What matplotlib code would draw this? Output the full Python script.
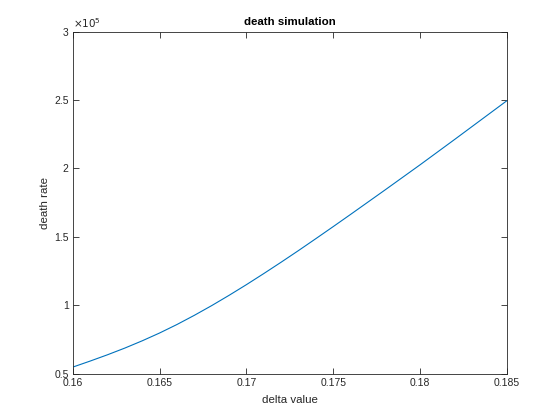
import matplotlib
matplotlib.use("Agg")
import matplotlib.pyplot as plt
from matplotlib.ticker import FuncFormatter, MultipleLocator

plt.rcParams['font.family'] = ['Liberation Sans', 'DejaVu Sans']

delta = [0.160, 0.161, 0.162, 0.163, 0.164, 0.165, 0.166, 0.167, 0.168, 0.169,
         0.170, 0.171, 0.172, 0.173, 0.174, 0.175, 0.176, 0.177, 0.178, 0.179,
         0.180, 0.181, 0.182, 0.183, 0.184, 0.185]
death = [0.549, 0.593, 0.639, 0.688, 0.741, 0.798, 0.860, 0.927, 0.998, 1.073,
         1.151, 1.232, 1.315, 1.400, 1.487, 1.575, 1.664, 1.754, 1.844, 1.935,
         2.026, 2.119, 2.212, 2.306, 2.400, 2.494]
death = [d * 1e5 for d in death]

fig = plt.figure(figsize=(5.6, 4.2), dpi=100)
ax = fig.add_axes([0.13, 0.11, 0.775, 0.815])
ax.plot(delta, death, color='#0072BD', lw=0.8)
ax.set_xlim(0.16, 0.185)
ax.set_ylim(0.5e5, 3e5)
ax.xaxis.set_major_locator(MultipleLocator(0.005))
ax.yaxis.set_major_locator(MultipleLocator(0.5e5))
ax.xaxis.set_major_formatter(FuncFormatter(lambda v, p: '%g' % round(v, 4)))
ax.yaxis.set_major_formatter(FuncFormatter(lambda v, p: '%g' % round(v / 1e5, 3)))
gray = '#262626'
ax.tick_params(direction='in', top=True, right=True, length=4, width=0.6,
               labelsize=7.5, colors=gray, pad=3)
for s in ax.spines.values():
    s.set_color(gray)
    s.set_linewidth(0.6)
ax.set_xlabel('delta value', fontsize=8.25, color=gray, labelpad=5)
ax.set_ylabel('death rate', fontsize=8.25, color=gray, labelpad=3)
ax.set_title('death simulation', fontsize=8.25, fontweight='bold', color='black', pad=5)
ax.text(0.0, 1.005, r'$\times10^{5}$', transform=ax.transAxes, fontsize=7.5,
        color=gray, ha='left', va='bottom')
fig.savefig('out.png', dpi=100)
